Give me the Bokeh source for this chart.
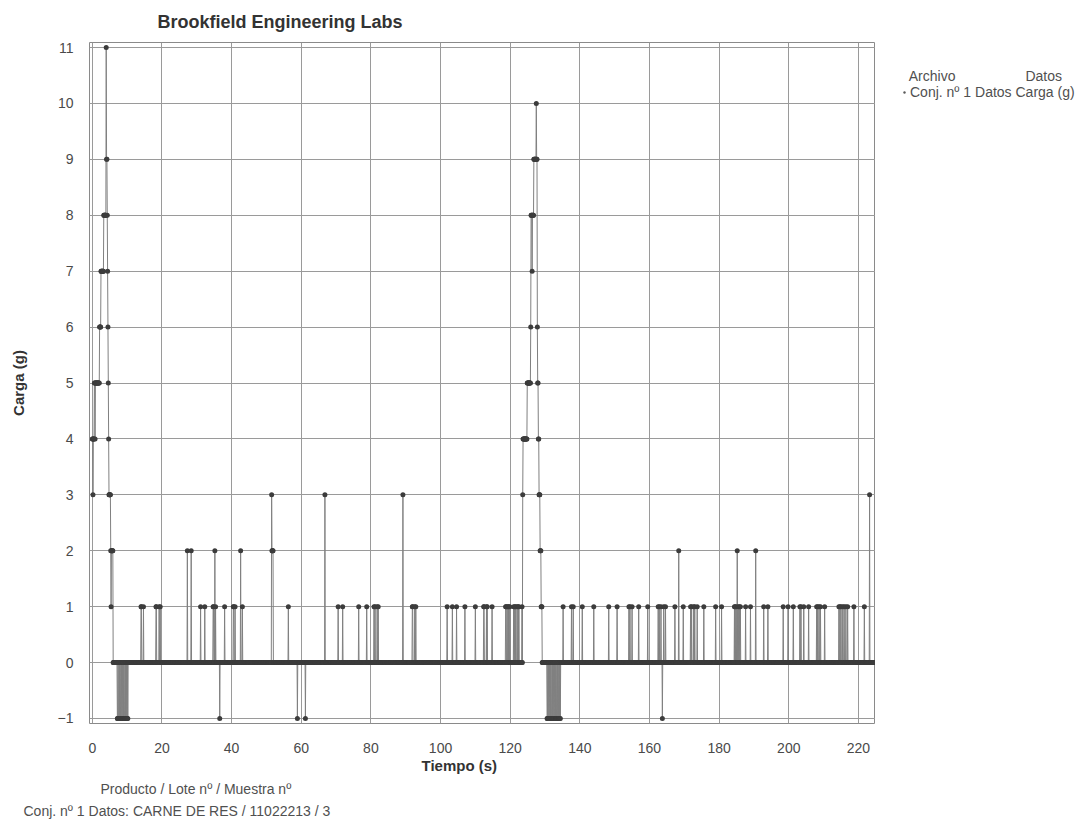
import numpy as np
from bokeh.plotting import figure
from bokeh.layouts import row
from bokeh.models import FixedTicker, Range1d, Title, Legend, LegendItem
from bokeh.embed import file_html
from bokeh.resources import INLINE

# ---------------- data ----------------
x_ticks = [0, 20, 40, 60, 80, 100, 120, 140, 160, 180, 200, 220]
y_ticks = [-1, 0, 1, 2, 3, 4, 5, 6, 7, 8, 9, 10, 11]

sample_step = 0.1          # s between samples
record_end = 224.4         # s, last sample

# first loading peak, consecutive samples starting at peak1_start
peak1_start = 0.0
peak1_values = [4, 4, 3, 4, 4, 4, 5, 5, 4, 5, 5, 5, 5, 5, 5, 5, 5, 5, 5, 5, 5,
                6, 6, 6, 6, 7, 7, 7, 7, 7, 7, 7, 7, 8, 8, 8, 8, 8, 8, 8,
                11, 9, 9, 8, 7, 6, 5, 4, 3, 3, 3, 3, 3, 2, 1, 2, 2, 2, 2, 2]

# second loading peak
peak2_start = 123.6
peak2_values = [3, 4, 4, 4, 4, 4, 4, 4, 4, 4, 4, 4, 4,
                5, 5, 5, 5, 5, 5, 5, 5, 5, 5, 6, 8, 8, 8, 7, 8, 8, 8, 8,
                9, 9, 9, 9, 9, 9, 9, 10, 9, 9, 6, 5, 5, 4, 4, 3, 3, 3,
                2, 2, 2, 1, 1, 1]

# negative readings
neg_times = [7.2, 7.3, 7.5, 7.6, 7.8, 8.0, 8.1, 8.3, 8.5, 8.6, 8.8, 9.0, 9.2,
             9.3, 9.5, 9.7, 9.9, 10.0, 10.2, 36.6, 58.9, 61.2,
             130.6, 130.7, 130.9, 131.1, 131.2, 131.4, 131.6, 131.8, 131.9,
             132.1, 132.3, 132.5, 132.6, 132.8, 133.0, 133.2, 133.3, 133.5,
             133.7, 133.9, 134.0, 134.2, 134.4, 163.7]

# isolated spikes above zero
spike_times = [14.0, 14.1, 14.7, 18.3, 18.4, 19.2, 19.5, 27.3, 28.4, 31.1, 32.3,
               34.7, 34.8, 35.2, 35.4, 38.0, 40.5, 40.6, 41.0, 42.6, 43.1,
               51.5, 51.6, 51.7, 51.8, 51.9, 56.3, 66.8, 70.6, 71.9, 76.5, 78.8,
               80.9, 81.2, 81.8, 82.1, 89.2, 91.9, 92.0, 92.6, 92.9,
               101.9, 103.4, 104.6, 107.0, 110.0, 112.4, 112.5, 113.2, 113.4,
               114.8, 118.7, 118.8, 119.1, 119.4, 119.6, 119.9,
               121.0, 121.3, 121.6, 122.0, 122.3, 122.5, 123.4,
               135.2, 137.6, 138.1, 140.7, 144.0, 148.3, 150.7,
               154.1, 154.4, 155.0, 156.9, 159.5, 162.5, 162.8, 163.3, 164.1, 164.6,
               167.3, 168.4, 169.7, 171.8, 172.1, 172.7, 173.0, 173.7,
               175.6, 179.0, 180.7, 184.4, 184.6, 184.9, 185.2, 185.5, 185.8, 186.1,
               187.6, 189.0, 190.5, 192.8, 194.0, 198.4, 199.8, 201.3, 203.2, 203.5,
               204.3, 205.7, 208.0, 208.3, 208.7, 209.1, 210.3,
               214.4, 214.7, 215.0, 215.5, 215.9, 216.4, 216.9, 218.7, 221.7, 223.2]
spike_values = [1, 1, 1, 1, 1, 1, 1, 2, 2, 1, 1,
                1, 1, 2, 1, 1, 1, 1, 1, 2, 1,
                3, 2, 2, 2, 2, 1, 3, 1, 1, 1, 1,
                1, 1, 1, 1, 3, 1, 1, 1, 1,
                1, 1, 1, 1, 1, 1, 1, 1, 1,
                1, 1, 1, 1, 1, 1, 1,
                1, 1, 1, 1, 1, 1, 1,
                1, 1, 1, 1, 1, 1, 1,
                1, 1, 1, 1, 1, 1, 1, 1, 1, 1,
                1, 2, 1, 1, 1, 1, 1, 1,
                1, 1, 1, 1, 1, 1, 2, 1, 1, 1,
                1, 1, 2, 1, 1, 1, 1, 1, 1, 1,
                1, 1, 1, 1, 1, 1, 1,
                1, 1, 1, 1, 1, 1, 1, 1, 1, 3]

# ---------------- build the recorded series ----------------
n = int(round(record_end / sample_step)) + 1
t = np.round(np.arange(n) * sample_step, 1)
load = np.zeros(n)


def idx(tt):
    return int(round(tt / sample_step))


for k, v in enumerate(peak1_values):
    load[idx(peak1_start) + k] = v
for k, v in enumerate(peak2_values):
    load[idx(peak2_start) + k] = v
for tt in neg_times:
    load[idx(tt)] = -1
for tt, v in zip(spike_times, spike_values):
    load[idx(tt)] = v

# ---------------- main figure ----------------
FONT = "Liberation Sans"
W, H = 1086, 839
FL, FR, FT, FB = 89, 875, 42, 723     # frame edges on the page
p = figure(width=FR, height=H, output_backend="svg", toolbar_location=None,
           x_range=Range1d(-0.8, 224.9), y_range=Range1d(-1.09, 11.09),
           min_border_left=FL, min_border_right=0,
           min_border_top=FT, min_border_bottom=H - FB)
p.background_fill_color = "white"
p.border_fill_color = "white"
p.outline_line_color = "#8a8a8a"
p.outline_line_width = 1

p.xaxis.ticker = FixedTicker(ticks=x_ticks)
p.yaxis.ticker = FixedTicker(ticks=y_ticks)
p.xgrid.ticker = FixedTicker(ticks=x_ticks)
p.ygrid.ticker = FixedTicker(ticks=y_ticks)
for g in (p.xgrid, p.ygrid):
    g.grid_line_color = "#9a9a9a"
    g.grid_line_width = 1

for ax in (p.xaxis, p.yaxis):
    ax.axis_line_color = None
    ax.major_tick_line_color = None
    ax.minor_tick_line_color = None
    ax.major_tick_out = 0
    ax.major_tick_in = 0
    ax.major_label_text_font = FONT
    ax.major_label_text_font_size = "14px"
    ax.major_label_text_color = "#4a4a4a"
    ax.axis_label_text_font = FONT
    ax.axis_label_text_font_style = "bold"
    ax.axis_label_text_font_size = "15px"
    ax.axis_label_text_color = "#333333"

p.xaxis.major_label_standoff = 19
p.yaxis.major_label_standoff = 16
p.yaxis.axis_label = "Carga (g)"
p.yaxis.axis_label_standoff = 28

# data
p.line(t, load, line_color="#808080", line_width=1)
p.scatter(t, load, size=5, fill_color="#3c3c3c", line_color=None)


def title(text, place, offset, size="14px", bold=False, color="#505050",
          standoff=0, valign="middle"):
    p.add_layout(Title(text=text, align="left", offset=offset,
                       vertical_align=valign,
                       text_font=FONT, text_font_size=size,
                       text_font_style="bold" if bold else "normal",
                       text_color=color, standoff=standoff), place)


title("Brookfield Engineering Labs", "above", 68, size="18px", bold=True,
      color="#333333", standoff=19)
title("Tiempo (s)", "below", 332, size="15px", bold=True, color="#333333")
title("Producto / Lote nº / Muestra nº", "below", 11, standoff=8.5,
      valign="bottom")
title("Conj. nº 1 Datos: CARNE DE RES / 11022213 / 3", "below", -66)

# ---------------- legend panel to the right ----------------
LM = 901 - FR          # legend inset from the panel's left edge
q = figure(width=W - FR, height=H, output_backend="svg", toolbar_location=None,
           title=None,
           x_range=Range1d(0, 1), y_range=Range1d(0, 1),
           x_axis_type=None, y_axis_type=None,
           min_border_left=0, min_border_right=0, min_border_bottom=0,
           min_border_top=61 - LM)
q.grid.visible = False
q.outline_line_color = None
q.background_fill_color = "white"
q.border_fill_color = "white"
# legend key only (not drawn in the panel itself)
key = q.scatter(x=t[:1], y=load[:1], size=4, fill_color="#5a5a5a",
                line_color=None, visible=False)

NB = "\u00a0"
legend = Legend(items=[LegendItem(label="Conj. nº 1 Datos Carga (g)",
                                  renderers=[key])],
                title=NB * 2 + "Archivo" + NB * 18 + "Datos",
                location="top_left", margin=LM, padding=0,
                glyph_width=6, glyph_height=16, label_standoff=3,
                title_standoff=0, border_line_color=None,
                background_fill_alpha=0, inactive_fill_alpha=0,
                label_text_font=FONT, label_text_font_size="14px",
                label_text_color="#505050",
                title_text_font=FONT, title_text_font_size="14px",
                title_text_font_style="normal", title_text_color="#505050")
q.add_layout(legend)

page = row(p, q)
open("out.html", "w").write(file_html(page, INLINE))
